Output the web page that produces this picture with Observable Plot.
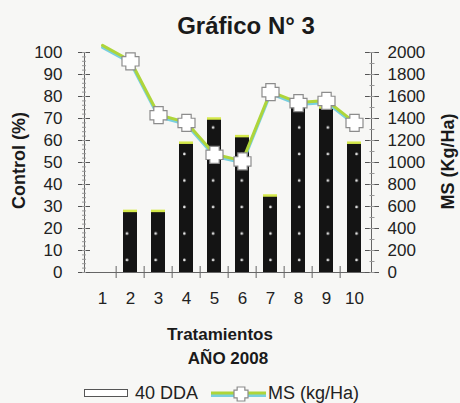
<!DOCTYPE html>
<html>
<head>
<meta charset="utf-8">
<script src="https://cdn.jsdelivr.net/npm/d3@7"></script>
<script src="https://cdn.jsdelivr.net/npm/@observablehq/plot@0.6"></script>
<style>
  body { margin: 0; background: #f7f7f5; }
  #chart svg { display: block; }
</style>
</head>
<body>
<div id="chart"></div>
<script>
// ---- data ----
const tratamientos = ["1", "2", "3", "4", "5", "6", "7", "8", "9", "10"];
const control40DDA = [0, 28, 28, 59, 70, 62, 35, 76, 75, 59];          // Control (%)
const msKgHa = [2060, 1920, 1430, 1360, 1070, 1010, 1640, 1540, 1560, 1360]; // MS (Kg/Ha)
const controlTicks = [0, 10, 20, 30, 40, 50, 60, 70, 80, 90, 100];
const msTicks = [0, 200, 400, 600, 800, 1000, 1200, 1400, 1600, 1800, 2000];
const titleText = "Gráfico N° 3";
const yLabelLeft = "Control (%)";
const yLabelRight = "MS (Kg/Ha)";
const xLabel = "Tratamientos";
const yearLabel = "AÑO 2008";
const legendBars = "40 DDA";
const legendLine = "MS (kg/Ha)";

const rows = tratamientos.map((t, i) => ({t, control: control40DDA[i], ms: msKgHa[i]}));
const msToY = v => v / 20; // right axis 0–2000 mapped onto left 0–100

const FONT = "'Liberation Sans', Arial, sans-serif";
const W = 460, H = 403, ML = 84, MR = 89, MT = 52, MB = 131;
const step = (W - ML - MR) / tratamientos.length;
const noText = () => "";

// plus-shaped marker
const plusSymbol = {
  draw(ctx, size) {
    const h = Math.sqrt(size / Math.PI), a = h * 0.55;
    ctx.moveTo(-a, -h); ctx.lineTo(a, -h); ctx.lineTo(a, -a); ctx.lineTo(h, -a);
    ctx.lineTo(h, a); ctx.lineTo(a, a); ctx.lineTo(a, h); ctx.lineTo(-a, h);
    ctx.lineTo(-a, a); ctx.lineTo(-h, a); ctx.lineTo(-h, -a); ctx.lineTo(-a, -a);
    ctx.closePath();
  }
};

function defsMark() {
  const defs = d3.create("svg:defs");
  const p = defs.append("pattern").attr("id", "dots").attr("patternUnits", "userSpaceOnUse")
    .attr("width", step).attr("height", 26.5);
  p.append("rect").attr("width", step).attr("height", 26.5).attr("fill", "#141414");
  p.append("circle").attr("cx", 12.2).attr("cy", 21.5).attr("r", 1.3).attr("fill", "#e8e8e8");
  return defs.node();
}

function axisLines(index, scales, values, dims) {
  const g = d3.create("svg:g").attr("stroke", "#666").attr("stroke-width", 1);
  const x0 = dims.marginLeft, x1 = dims.width - dims.marginRight;
  const y0 = dims.marginTop, y1 = dims.height - dims.marginBottom;
  g.append("line").attr("x1", x0 + 0.5).attr("x2", x0 + 0.5).attr("y1", y0).attr("y2", y1);
  g.append("line").attr("x1", x1 + 0.5).attr("x2", x1 + 0.5).attr("y1", y0).attr("y2", y1);
  return g.node();
}

function legendMark() {
  const g = d3.create("svg:g").attr("font-family", FONT).attr("font-size", 18)
    .attr("fill", "#222").attr("text-anchor", "start");
  g.append("rect").attr("x", 84.5).attr("y", 389.5).attr("width", 43).attr("height", 7)
    .attr("fill", "#fff").attr("stroke", "#555").attr("stroke-width", 1);
  g.append("text").attr("x", 135).attr("y", 399).text(legendBars);
  g.append("line").attr("x1", 211).attr("x2", 266).attr("y1", 395.5).attr("y2", 395.5)
    .attr("stroke", "#78cfe0").attr("stroke-width", 3);
  g.append("line").attr("x1", 211).attr("x2", 266).attr("y1", 393).attr("y2", 393)
    .attr("stroke", "#aed53a").attr("stroke-width", 3);
  g.append("path").attr("transform", "translate(241,394)")
    .attr("d", d3.symbol(plusSymbol, Math.PI * 7 * 7)())
    .attr("fill", "#fff").attr("stroke", "#8c8c8c").attr("stroke-width", 1.2);
  g.append("text").attr("x", 268).attr("y", 399).text(legendLine);
  return g.node();
}

const chart = Plot.plot({
  width: W, height: H,
  marginLeft: ML, marginRight: MR, marginTop: MT, marginBottom: MB,
  style: {background: "transparent", fontFamily: FONT, color: "#222"},
  x: {type: "band", domain: tratamientos, paddingInner: 0.5, paddingOuter: 0.25, label: null},
  y: {domain: [0, 100], label: null},
  marks: [
    defsMark,
    Plot.barY(rows, {x: "t", y: "control", fill: "url(#dots)"}),
    Plot.tickY(rows.filter(d => d.control > 0), {x: "t", y: "control", stroke: "#d4e84a", strokeWidth: 2.5}),
    // axes lines
    axisLines,
    Plot.ruleY([0], {stroke: "#666"}),
    // left axis
    Plot.axisY(controlTicks, {anchor: "left", tickSize: 12, dx: 6, stroke: "#555", tickFormat: noText, label: null}),
    Plot.axisY(d3.range(0, 101, 2), {anchor: "left", tickSize: 4, dx: 2, stroke: "#999", tickFormat: noText, label: null}),
    Plot.axisY(controlTicks, {anchor: "left", tickSize: 0, tickPadding: 22, fontSize: 17, fill: "#222", label: null}),
    // right axis
    Plot.axisY(msTicks.map(msToY), {anchor: "right", tickSize: 14, dx: -7, stroke: "#555", tickFormat: noText, label: null}),
    Plot.axisY(d3.range(0, 101, 5), {anchor: "right", tickSize: 5, dx: -2.5, stroke: "#999", tickFormat: noText, label: null}),
    Plot.axisY(msTicks.map(msToY), {anchor: "right", tickSize: 0, tickPadding: 16, fontSize: 17, fill: "#222", label: null, tickFormat: d => String(Math.round(d * 20))}),
    // bottom axis
    Plot.ruleX(tratamientos.slice(1), {x: d => d, y1: 0, y2: 0, insetTop: -6, insetBottom: -6, dx: -step / 2, stroke: "#666"}),
    Plot.axisX({anchor: "bottom", tickSize: 0, tickPadding: 19, fontSize: 17, fill: "#222", label: null}),
    // MS line
    Plot.line(rows, {x: "t", y: d => msToY(d.ms), stroke: "#78cfe0", strokeWidth: 3, dy: 1.5}),
    Plot.line(rows, {x: "t", y: d => msToY(d.ms), stroke: "#aed53a", strokeWidth: 3, dy: -0.5}),
    Plot.dot(rows.slice(1), {x: "t", y: d => msToY(d.ms), symbol: plusSymbol, r: 8.5, fill: "#fff", stroke: "#8c8c8c", strokeWidth: 1.2}),
    // texts
    Plot.text([titleText], {frameAnchor: "top", dx: 18, dy: -26, lineAnchor: "middle", textAnchor: "middle", fontSize: 24, fontWeight: "bold", fill: "#1a1a1a"}),
    Plot.text([yLabelLeft], {frameAnchor: "left", dx: -65, dy: -2, rotate: -90, lineAnchor: "middle", textAnchor: "middle", fontSize: 18, fontWeight: "bold", fill: "#1a1a1a"}),
    Plot.text([yLabelRight], {frameAnchor: "right", dx: 77, dy: -1, rotate: -90, lineAnchor: "middle", textAnchor: "middle", fontSize: 18, fontWeight: "bold", fill: "#1a1a1a"}),
    Plot.text([xLabel], {frameAnchor: "bottom", dx: -8, dy: 62, lineAnchor: "middle", textAnchor: "middle", fontSize: 17, fontWeight: "bold", fill: "#1a1a1a", letterSpacing: "-0.5px"}),
    Plot.text([yearLabel], {frameAnchor: "bottom", dx: 0, dy: 86, lineAnchor: "middle", textAnchor: "middle", fontSize: 17, fontWeight: "bold", fill: "#1a1a1a", letterSpacing: "-0.6px"}),
    legendMark
  ]
});
document.getElementById("chart").appendChild(chart);
</script>
</body>
</html>
